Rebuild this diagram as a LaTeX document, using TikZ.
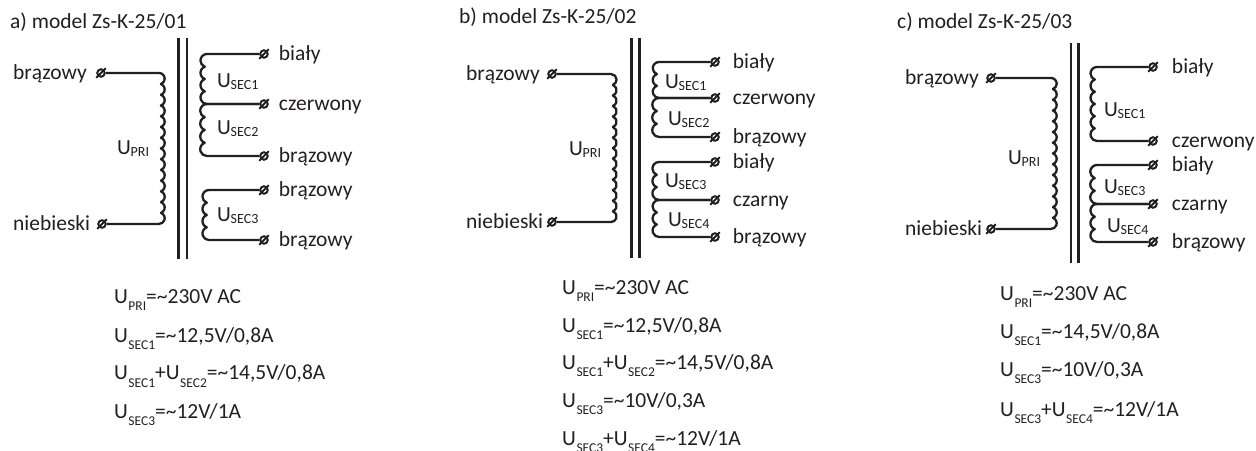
\documentclass[tikz,border=0pt]{standalone}
\usepackage{fontspec}
\setmainfont{Carlito}
\usetikzlibrary{positioning}
\definecolor{ink}{HTML}{231F20}
\tikzset{
  wire/.style={ink, line width=2.3pt, line join=round},
  corebar/.style={ink, line width=2.4pt},
  term/.style={circle, draw=ink, line width=2pt, inner sep=0pt, minimum size=7.5pt,
    append after command={(\tikzlastnode.south west) edge[ink, line width=2pt, shorten >=-2pt, shorten <=-2pt] (\tikzlastnode.north east)}},
  wirelabel/.style={ink, inner sep=0pt, font=\fontsize{21.5}{24}\selectfont, text height=14pt, text depth=0pt},
  coillabel/.style={ink, inner sep=0pt, anchor=base west, font=\fontsize{21.5}{24}\selectfont},
  formula/.style={ink, inner sep=0pt, anchor=base west, font=\fontsize{21.5}{24}\selectfont},
}
% winding bumps, to the right and to the left: count, radius
\newcommand{\bumpsR}[2]{arc (90:-70:#2) \foreach \k in {3,...,#1} {arc (70:-70:#2)} arc (70:-90:#2)}
\newcommand{\bumpsL}[2]{arc (90:250:#2) \foreach \k in {3,...,#1} {arc (110:250:#2)} arc (110:270:#2)}
% U with a small index, beside a coil and in a formula
\newcommand{\coilU}[1]{U\kern-0.3pt{\fontsize{14}{14}\selectfont\raisebox{-1.5pt}{#1}}}
\newcommand{\formU}[1]{U\kern0.5pt{\fontsize{13.5}{14}\selectfont\raisebox{-7pt}{#1}}}
\begin{document}
\begin{tikzpicture}[x=1pt,y=1pt]
  \useasboundingbox (0,0) rectangle (1256,450);
  % Model a
  \node[formula] (titleA) at (10,421) {a) model Zs-K-25/01};
  \draw[corebar] (178.5,412) -- (178.5,191);
  \draw[corebar] (187,412) -- (187,191);
  \foreach \nm/\y/\txt in {a1/396/biały, a2/346/czerwony, a3/294/brązowy, a4/260/brązowy, a5/210/brązowy}
    \node[term] (\nm) at (264,\y) {} node[wirelabel, right=10pt of \nm] (\nm txt) {\txt};
  \node[term] (aP) at (101,377) {};
  \node[term] (aN) at (102,226) {};
  \node[wirelabel, anchor=west] (aPtxt) at (13,377) {brązowy};
  \node[wirelabel, anchor=west] (aNtxt) at (13,226) {niebieski};
  \draw[wire] (aP) -- (159,377) \bumpsR{14}{5.71} -- (aN);
  \draw[wire] (a1) -- (207,396) \bumpsL{4}{6.55} -- (a2);
  \draw[wire] (a2) -- (207,346) \bumpsL{4}{6.81} -- (a3);
  \draw[wire] (a4) -- (209,260) \bumpsL{4}{6.55} -- (a5);
  \node[coillabel] (aUp) at (117,295) {\coilU{PRI}};
  \node[coillabel] (aU1) at (217,362) {\coilU{SEC1}};
  \node[coillabel] (aU2) at (217,315) {\coilU{SEC2}};
  \node[coillabel] (aU3) at (217,228) {\coilU{SEC3}};
  \node[formula] (aF1) at (114,146) {\formU{PRI}=\char"007E 230V AC};
  \node[formula] (aF2) at (114,107) {\formU{SEC1}=\char"007E 12,5V/0,8A};
  \node[formula] (aF3) at (114,70) {\formU{SEC1}+\formU{SEC2}=\char"007E 14,5V/0,8A};
  \node[formula] (aF4) at (114,31) {\formU{SEC3}=\char"007E 12V/1A};
  % Model b
  \node[formula] (titleB) at (459,426) {b) model Zs-K-25/02};
  \draw[corebar] (631.5,412) -- (631.5,192);
  \draw[corebar] (639.5,412) -- (639.5,192);
  \foreach \nm/\y/\txt in {b1/388/biały, b2/352/czerwony, b3/313/brązowy, b4/288/biały, b5/250/czarny, b6/213/brązowy}
    \node[term] (\nm) at (715,\y) {} node[wirelabel, right=13pt of \nm] (\nm txt) {\txt};
  \node[term] (bP) at (552,376) {};
  \node[term] (bN) at (552,228) {};
  \node[wirelabel, anchor=west] (bPtxt) at (466,376) {brązowy};
  \node[wirelabel, anchor=west] (bNtxt) at (466,228) {niebieski};
  \draw[wire] (bP) -- (611,376) \bumpsR{14}{5.6} -- (bN);
  \draw[wire] (b1) -- (659,388) \bumpsL{3}{6.25} -- (b2);
  \draw[wire] (b2) -- (659,352) \bumpsL{3}{6.77} -- (b3);
  \draw[wire] (b4) -- (659,288) \bumpsL{3}{6.6} -- (b5);
  \draw[wire] (b5) -- (659,250) \bumpsL{3}{6.42} -- (b6);
  \node[coillabel] (bUp) at (569,294) {\coilU{PRI}};
  \node[coillabel] (bU1) at (665,361) {\coilU{SEC1}};
  \node[coillabel] (bU2) at (668,324) {\coilU{SEC2}};
  \node[coillabel] (bU3) at (665,262) {\coilU{SEC3}};
  \node[coillabel] (bU4) at (668,223) {\coilU{SEC4}};
  \node[formula] (bF1) at (562,155) {\formU{PRI}=\char"007E 230V AC};
  \node[formula] (bF2) at (562,117) {\formU{SEC1}=\char"007E 12,5V/0,8A};
  \node[formula] (bF3) at (562,80) {\formU{SEC1}+\formU{SEC2}=\char"007E 14,5V/0,8A};
  \node[formula] (bF4) at (562,42) {\formU{SEC3}=\char"007E 10V/0,3A};
  \node[formula] (bF5) at (562,5) {\formU{SEC3}+\formU{SEC4}=\char"007E 12V/1A};
  % Model c
  \node[formula] (titleC) at (897,421) {c) model Zs-K-25/03};
  \draw[corebar] (1071,407) -- (1071,187);
  \draw[corebar] (1078.5,407) -- (1078.5,187);
  \foreach \nm/\y/\txt in {c1/383/biały, c2/309/czerwony, c3/285/biały, c4/246/czarny, c5/208/brązowy}
    \node[term] (\nm) at (1153,\y) {} node[wirelabel, right=14pt of \nm] (\nm txt) {\txt};
  \node[term] (cP) at (991,372) {};
  \node[term] (cN) at (991,221) {};
  \node[wirelabel, anchor=west] (cPtxt) at (905,372) {brązowy};
  \node[wirelabel, anchor=west] (cNtxt) at (905,221) {niebieski};
  \draw[wire] (cP) -- (1051,372) \bumpsR{14}{5.71} -- (cN);
  \draw[wire] (c1) -- (1097,383) \bumpsL{6}{6.49} -- (c2);
  \draw[wire] (c3) -- (1097,285) \bumpsL{3}{6.77} -- (c4);
  \draw[wire] (c4) -- (1097,246) \bumpsL{3}{6.6} -- (c5);
  \node[coillabel] (cUp) at (1008,285) {\coilU{PRI}};
  \node[coillabel] (cU1) at (1104,333) {\coilU{SEC1}};
  \node[coillabel] (cU3) at (1104,256) {\coilU{SEC3}};
  \node[coillabel] (cU4) at (1107,217) {\coilU{SEC4}};
  \node[formula] (cF1) at (1000,149) {\formU{PRI}=\char"007E 230V AC};
  \node[formula] (cF2) at (1000,111) {\formU{SEC1}=\char"007E 14,5V/0,8A};
  \node[formula] (cF3) at (1000,73) {\formU{SEC3}=\char"007E 10V/0,3A};
  \node[formula] (cF4) at (1000,34) {\formU{SEC3}+\formU{SEC4}=\char"007E 12V/1A};
\end{tikzpicture}
\end{document}
